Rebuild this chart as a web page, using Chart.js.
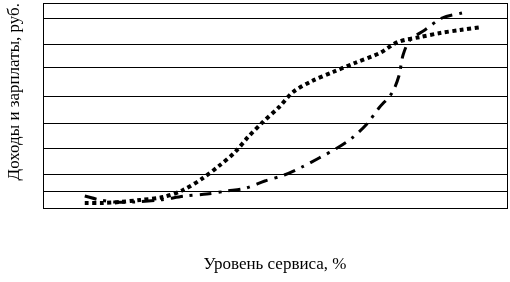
<!DOCTYPE html>
<html lang="ru">
<head>
    <meta charset="UTF-8">
    <script src="https://cdn.jsdelivr.net/npm/chart.js"></script>
    <style>
        body { margin: 0; background: #fff; }
        .chart-container { width: 510px; height: 282px; }
    </style>
    <title>Доходы и зарплаты</title>
</head>
<body>
    <div class="chart-container">
        <canvas id="serviceChart" width="510" height="282"></canvas>
    </div>
    <script>
        // Доходы (пунктир) - уровень сервиса, %
        const incomeX = [9, 12.9, 16.6, 20.9, 25.9, 30.2, 34.5, 37.9, 41.4, 44.2, 47.4, 50.9, 53.9, 58, 62.5, 67.2, 72.6, 76.5, 81.3, 85.6, 89.9, 94.6];
        const incomeY = [5, 5, 6, 8, 11, 18, 30, 42, 56, 71, 86, 101, 116, 127, 136, 145, 155, 166, 171, 175, 178, 181];

        // Зарплаты (штрихпунктир)
        const wagesX = [9, 12.3, 15.5, 19.8, 25.2, 30.6, 35.3, 39.7, 43.8, 47.8, 52, 55.8, 59.5, 63.4, 66.6, 69.8, 72.4, 75.2, 76.7, 77.6, 79.1, 82.3, 86, 90.3];
        const wagesY = [12, 8, 6, 6, 8, 12, 14, 17, 20, 27, 33, 41, 50, 60, 70, 84, 100, 115, 132, 153, 168, 178, 190, 195];

        // horizontal grid lines (no labels on the axis)
        const gridLines = [0, 17, 34, 60, 85, 111, 140, 163, 189, 205];

        const toPoints = (xs, ys) => xs.map((x, i) => ({ x: x, y: ys[i] }));
        const serif = '"Liberation Serif", "Times New Roman", serif';

        const ctx = document.getElementById('serviceChart').getContext('2d');
        new Chart(ctx, {
            type: 'line',
            data: {
                datasets: [{
                    label: 'Доходы',
                    data: toPoints(incomeX, incomeY),
                    borderColor: '#000',
                    borderWidth: 4,
                    borderDash: [4, 3.5],
                    borderCapStyle: 'butt',
                    pointRadius: 0,
                    tension: 0.3
                }, {
                    label: 'Зарплаты',
                    data: toPoints(wagesX, wagesY),
                    borderColor: '#000',
                    borderWidth: 3,
                    borderDash: [12, 7, 3, 7],
                    borderCapStyle: 'butt',
                    pointRadius: 0,
                    tension: 0.3
                }]
            },
            options: {
                responsive: false,
                animation: false,
                layout: { padding: { top: 3, right: 3, left: 0, bottom: 0 } },
                plugins: {
                    legend: { display: false },
                    tooltip: { enabled: false }
                },
                scales: {
                    x: {
                        type: 'linear',
                        min: 0,
                        max: 100,
                        afterBuildTicks: (axis) => { axis.ticks = [{ value: 0 }, { value: 100 }]; },
                        ticks: { display: false },
                        grid: { color: '#000', lineWidth: 1, drawTicks: false },
                        border: { color: '#000', width: 1 },
                        title: {
                            display: true,
                            text: 'Уровень сервиса, %',
                            color: '#000',
                            font: { family: serif, size: 17 },
                            padding: { top: 46.8, bottom: 6.8 }
                        }
                    },
                    y: {
                        min: 0,
                        max: 205,
                        afterBuildTicks: (axis) => { axis.ticks = gridLines.map(v => ({ value: v })); },
                        ticks: { display: false },
                        grid: { color: '#000', lineWidth: 1, drawTicks: false },
                        border: { color: '#000', width: 1 },
                        title: {
                            display: true,
                            text: 'Доходы и зарплаты, руб.',
                            align: 'end',
                            color: '#000',
                            font: { family: serif, size: 17 },
                            padding: { top: 4.8, bottom: 17.8 }
                        }
                    }
                }
            }
        });
    </script>
</body>
</html>
